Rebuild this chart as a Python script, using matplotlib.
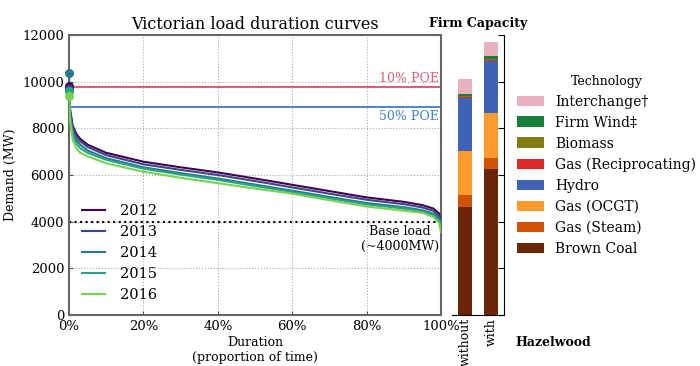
import matplotlib
matplotlib.use('Agg')
import matplotlib.pyplot as plt
from matplotlib.ticker import FuncFormatter
from matplotlib.patches import Patch

plt.rcParams['font.family'] = ['DejaVu Serif']

# duration (fraction of time) at which demand values were read
duration = [0, 0.003, 0.01, 0.02, 0.03, 0.05, 0.10, 0.20, 0.30, 0.40, 0.50,
            0.60, 0.70, 0.80, 0.90, 0.95, 0.98, 0.995, 1.0]

years = ['2012', '2013', '2014', '2015', '2016']
demand_2012 = [9800, 8800, 8100, 7750, 7550, 7300, 6950, 6570, 6330, 6110, 5850,
               5580, 5310, 5040, 4850, 4710, 4560, 4350, 3950]
demand_2013 = [9700, 8700, 8000, 7650, 7450, 7200, 6850, 6460, 6220, 6000, 5740,
               5470, 5200, 4940, 4750, 4610, 4460, 4250, 3850]
demand_2014 = [10350, 8600, 7850, 7500, 7300, 7050, 6720, 6330, 6080, 5850, 5590,
               5330, 5060, 4800, 4620, 4490, 4340, 4150, 3800]
demand_2015 = [9600, 8450, 7700, 7350, 7150, 6950, 6650, 6270, 6020, 5790, 5530,
               5270, 5000, 4740, 4560, 4440, 4280, 4050, 3700]
demand_2016 = [9400, 8300, 7500, 7150, 6950, 6800, 6500, 6140, 5880, 5650, 5420,
               5200, 4920, 4650, 4470, 4380, 4200, 3950, 3550]
year_colors = ['#440154', '#414487', '#2a788e', '#22a884', '#7ad151']

poe_10 = 9780
poe_50 = 8900
base_load = 4000

# firm capacity stack (bottom to top)
scenarios = ['without', 'with']
technologies = ['Brown Coal', 'Gas (Steam)', 'Gas (OCGT)', 'Hydro',
                'Gas (Reciprocating)', 'Biomass', 'Firm Wind\u2021', 'Interchange\u2020']
capacity = {
    'Brown Coal': [4640, 6240],
    'Gas (Steam)': [500, 500],
    'Gas (OCGT)': [1900, 1900],
    'Hydro': [2270, 2260],
    'Gas (Reciprocating)': [20, 20],
    'Biomass': [40, 40],
    'Firm Wind\u2021': [120, 120],
    'Interchange\u2020': [610, 620],
}
tech_colors = ['#6b2508', '#d25204', '#ff9a2c', '#4063b5',
               '#dc2a2a', '#7f7d14', '#16803a', '#e9b0be']

fig = plt.figure(figsize=(7, 3.66), dpi=100)
ax = fig.add_axes([0.0986, 0.1393, 0.5314, 0.7651])
bx = fig.add_axes([0.6457, 0.1393, 0.0743, 0.7651], sharey=ax)

# load duration curves, peak marked with a dot
all_demand = [demand_2012, demand_2013, demand_2014, demand_2015, demand_2016]
for yr, dem, col in zip(years, all_demand, year_colors):
    ax.plot(duration, dem, color=col, lw=1.5, label=yr, zorder=3)
    ax.plot(duration[0], dem[0], 'o', color=col, markersize=5.5,
            clip_on=False, zorder=4)

ax.axhline(poe_10, color='#d9607a', lw=1.5, zorder=2)
ax.axhline(poe_50, color='#3f7fbf', lw=1.3, zorder=2)
ax.axhline(base_load, color='black', ls=':', lw=1.5, zorder=2)
ax.text(0.995, poe_10 + 60, '10% POE', color='#d9607a', fontsize=9,
        ha='right', va='bottom')
ax.text(0.995, poe_50 - 120, '50% POE', color='#3f7fbf', fontsize=9,
        ha='right', va='top')
ax.text(0.995, base_load - 150, 'Base load\n(~4000MW)', fontsize=9,
        ha='right', va='top', multialignment='center')

ax.set_xlim(0, 1)
ax.set_ylim(0, 12000)
ax.set_xticks([0, 0.2, 0.4, 0.6, 0.8, 1.0])
ax.xaxis.set_major_formatter(FuncFormatter(lambda v, p: f'{v * 100:.0f}%'))
ax.set_yticks(range(0, 12001, 2000))
ax.grid(True, color='#aaaaaa', ls=':', lw=0.8)
ax.tick_params(direction='in', labelsize=9.5, length=3, color='#555555')
for sp in ax.spines.values():
    sp.set_color('#666666')
    sp.set_linewidth(1.5)
ax.set_ylabel('Demand (MW)', fontsize=9, labelpad=4)
ax.set_xlabel('Duration\n(proportion of time)', fontsize=9, labelpad=2)
ax.set_title('Victorian load duration curves', fontsize=11.5, pad=4)
ax.legend(loc='lower left', bbox_to_anchor=(0.0, 0.0), frameon=False,
          fontsize=10.5, handlelength=1.6, labelspacing=0.48,
          handletextpad=1.0)

# firm capacity stacked bars
xpos = list(range(len(scenarios)))
bottom = [0] * len(scenarios)
handles = []
for tech, col in zip(technologies, tech_colors):
    vals = capacity[tech]
    bx.bar(xpos, vals, width=0.55, bottom=bottom, color=col, edgecolor='none')
    bottom = [b + v for b, v in zip(bottom, vals)]
    handles.append(Patch(facecolor=col, label=tech))

bx.set_xlim(-0.5, 1.5)
bx.set_xticks(xpos)
bx.set_xticklabels(scenarios, rotation=90, fontsize=9)
bx.spines['left'].set_visible(False)
bx.spines['top'].set_visible(False)
bx.yaxis.tick_right()
bx.tick_params(axis='y', direction='in', labelright=False, labelleft=False,
               length=4)
bx.tick_params(axis='x', length=0, pad=2)
bx.set_title('Firm Capacity', fontsize=9, fontweight='bold', pad=6)
fig.text(0.79, 0.065, 'Hazelwood', fontsize=9, fontweight='bold',
         ha='center', va='center')

fig.legend(handles=handles[::-1], loc='upper left',
           bbox_to_anchor=(0.72, 0.83), frameon=False, fontsize=10,
           title='Technology', title_fontsize=9, handlelength=2.0,
           handleheight=0.8, labelspacing=0.5, handletextpad=0.8)

fig.savefig('out.png', dpi=100)
